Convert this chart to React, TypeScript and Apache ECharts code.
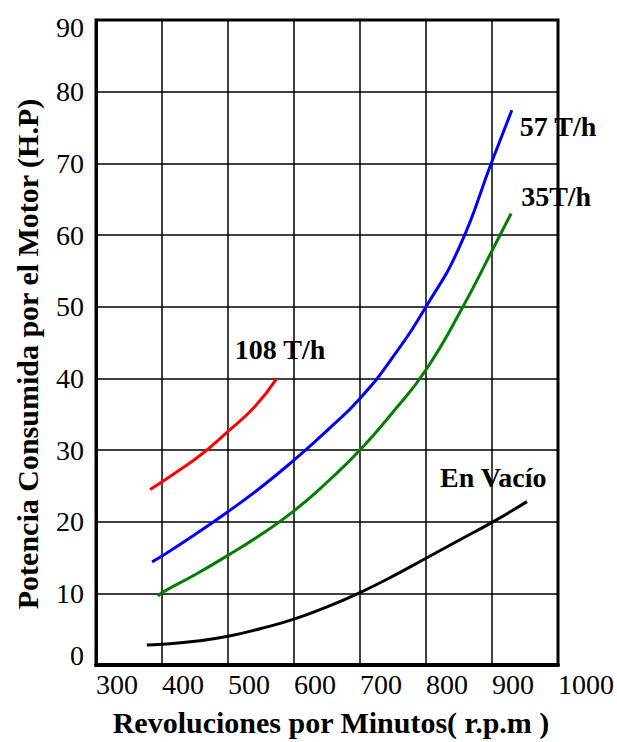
import React, { useEffect, useRef } from "react";
import * as echarts from "echarts";

const xTicks = [300, 400, 500, 600, 700, 800, 900, 1000];
const yTicks = [0, 10, 20, 30, 40, 50, 60, 70, 80, 90];

const xTitle = "Revoluciones por Minutos( r.p.m )";
const yTitle = "Potencia Consumida por el Motor (H.P)";

const seriesNames = ["108 T/h", "57 T/h", "35T/h", "En Vacío"];
const seriesColors = ["#ff0000", "#0000ff", "#008000", "#000000"];

const red108: [number, number][] = [
  [382, 24.5], [420, 26.8], [460, 29.4], [500, 32.6], [540, 36.0], [574, 40],
];
const blue57: [number, number][] = [
  [385, 14.4], [400, 15.2], [450, 18.2], [500, 21.4], [550, 24.8], [600, 28.6],
  [650, 32.7], [700, 37.2], [750, 43.0], [800, 50], [850, 58.2], [900, 70.3], [930, 77.4],
];
const green35: [number, number][] = [
  [394, 9.6], [400, 10.1], [450, 12.6], [500, 15.3], [550, 18.2], [600, 21.5],
  [650, 25.5], [700, 30], [750, 35.3], [800, 41.2], [856, 50], [900, 57.8], [929, 63],
];
const blackVacio: [number, number][] = [
  [377, 2.8], [400, 2.9], [450, 3.3], [500, 4.0], [550, 5.1], [600, 6.4],
  [650, 8.1], [700, 10.1], [750, 12.4], [800, 14.9], [850, 17.4], [900, 19.9], [953, 22.8],
];

const seriesData = [red108, blue57, green35, blackVacio];
const labelOffsets: [number, number][] = [[-50, -29], [0, 16], [2, -17], [-95, -24]];

const FONT = "'Liberation Serif', 'Times New Roman', serif";

export default function App() {
  const ref = useRef<HTMLDivElement>(null);
  useEffect(() => {
    if (!ref.current) return;
    const chart = echarts.init(ref.current, undefined, { renderer: "svg" });
    chart.setOption({
      animation: false,
      backgroundColor: "#ffffff",
      grid: {
        left: 96,
        right: 59,
        top: 20,
        bottom: 74,
        show: true,
        borderColor: "#000",
        borderWidth: 3,
        containLabel: false,
      },
      graphic: [
        {
          type: "text",
          x: 27,
          y: 354,
          rotation: Math.PI / 2,
          style: {
            text: yTitle,
            fontFamily: FONT,
            fontWeight: "bold",
            fontSize: 30,
            fill: "#000",
            align: "center",
            verticalAlign: "middle",
          },
        },
      ],
      xAxis: {
        type: "value",
        min: xTicks[0],
        max: xTicks[xTicks.length - 1],
        interval: 100,
        name: xTitle,
        nameLocation: "middle",
        nameGap: 42,
        nameTextStyle: { fontFamily: FONT, fontWeight: "bold", fontSize: 30, color: "#000", padding: [0, 0, 0, 8] },
        axisLine: { show: true, lineStyle: { color: "#000", width: 4 } },
        axisTick: { show: false },
        axisLabel: {
          fontFamily: FONT,
          fontSize: 28,
          color: "#000",
          align: "left",
          margin: 5,
          formatter: (v: number) => String(v),
        },
        splitLine: { show: true, lineStyle: { color: "#000", width: 1.5 } },
      },
      yAxis: {
        type: "value",
        min: yTicks[0],
        max: yTicks[yTicks.length - 1],
        interval: 10,
        axisLine: { show: true, lineStyle: { color: "#000", width: 3 } },
        axisTick: { show: false },
        axisLabel: {
          fontFamily: FONT,
          fontSize: 28,
          color: "#000",
          margin: 12,
          formatter: (v: number) => (v === 90 ? "{top|90}" : v === 0 ? "{bot|0}" : String(v)),
          rich: {
            top: { fontFamily: FONT, fontSize: 28, color: "#000", padding: [14, 0, 0, 0] },
            bot: { fontFamily: FONT, fontSize: 28, color: "#000", padding: [0, 0, 20, 0] },
          },
        },
        splitLine: { show: true, lineStyle: { color: "#000", width: 1.5 } },
      },
      series: seriesData.map((d, i) => ({
        type: "line",
        name: seriesNames[i],
        data: d,
        smooth: true,
        showSymbol: false,
        lineStyle: { color: seriesColors[i], width: 3 },
        itemStyle: { color: seriesColors[i] },
        z: 5,
        endLabel: {
          show: true,
          formatter: seriesNames[i],
          fontFamily: FONT,
          fontWeight: "bold",
          fontSize: 28,
          color: "#000",
          offset: labelOffsets[i],
        },
      })),
    });
    return () => chart.dispose();
  }, []);
  return (
    <div
      ref={ref}
      style={{ position: "absolute", left: 0, top: 0, width: 617, height: 742 }}
    />
  );
}
